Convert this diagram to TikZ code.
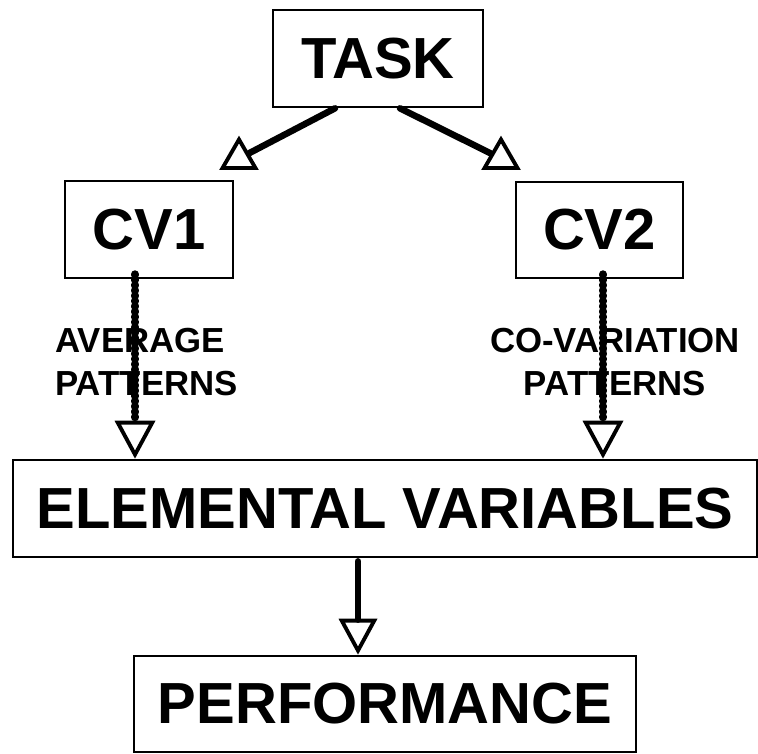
\documentclass[tikz,border=0pt]{standalone}
\usepackage{fontspec}
\setmainfont{Liberation Sans}
\usetikzlibrary{arrows.meta, positioning, shapes.geometric}

\begin{document}
\begin{tikzpicture}[
		x=0.02cm, y=-0.02cm,
		box/.style={draw, line width=1.5pt, inner sep=0pt,
			font=\fontsize{33}{40}\selectfont\bfseries},
		lbl/.style={font=\fontsize{19.8}{24.4}\selectfont\bfseries,
			align=center, inner sep=0pt},
		link/.style={line width=3.7pt, line cap=round},
		opentri/.style={draw, regular polygon, regular polygon sides=3,
			minimum size=0.76cm, inner sep=0pt, line width=2.2pt, fill=white},
		down/.style={link, -{Triangle[open, length=0.76cm, width=0.8cm, line width=2.2pt]}},
		dots/.style={line width=4.6pt, dash pattern=on 0.4pt off 2.6pt},
		]
		\useasboundingbox (0,0) rectangle (758,754);

		% Boxes
		\node[box, minimum width=4.2cm, minimum height=1.94cm] (task) at (378,58.5) {TASK};
		\node[box, minimum width=3.36cm, minimum height=1.94cm] (cv1) at (149,229.5) {CV1};
		\node[box, minimum width=3.34cm, minimum height=1.92cm] (cv2) at (599.5,230) {CV2};
		\node[box, minimum width=14.88cm, minimum height=1.94cm] (elem) at (385,508.5) {ELEMENTAL VARIABLES};
		\node[box, minimum width=10.04cm, minimum height=1.92cm] (perf) at (385,704) {PERFORMANCE};

		% Labels on the dotted links
		\node[lbl, align=left, anchor=west] (avg) at (55,362) {AVERAGE\\PATTERNS};
		\node[lbl] (cov) at (615,362) {CO-VARIATION\\PATTERNS};

		% Heads below TASK
		\node[opentri] (t1) at (239,158.5) {};
		\node[opentri] (t2) at (501,158.5) {};

		% Arrows
		\draw[link] ([xshift=-0.86cm]task.south) -- (t1);
		\draw[link] ([xshift=0.44cm]task.south) -- (t2);
		\draw[down, dots] ([xshift=-0.28cm, yshift=0.1cm]cv1.south)
			-- ([xshift=-0.28cm]cv1.south |- elem.north);
		\draw[down, dots] ([xshift=0.07cm, yshift=0.1cm]cv2.south)
			-- ([xshift=0.07cm]cv2.south |- elem.north);
		\draw[link, -{Triangle[open, length=0.72cm, width=0.76cm, line width=2.2pt]}]
			([xshift=-0.54cm, yshift=-0.06cm]elem.south)
			-- ([xshift=-0.54cm]elem.south |- perf.north);
	\end{tikzpicture}
\end{document}
